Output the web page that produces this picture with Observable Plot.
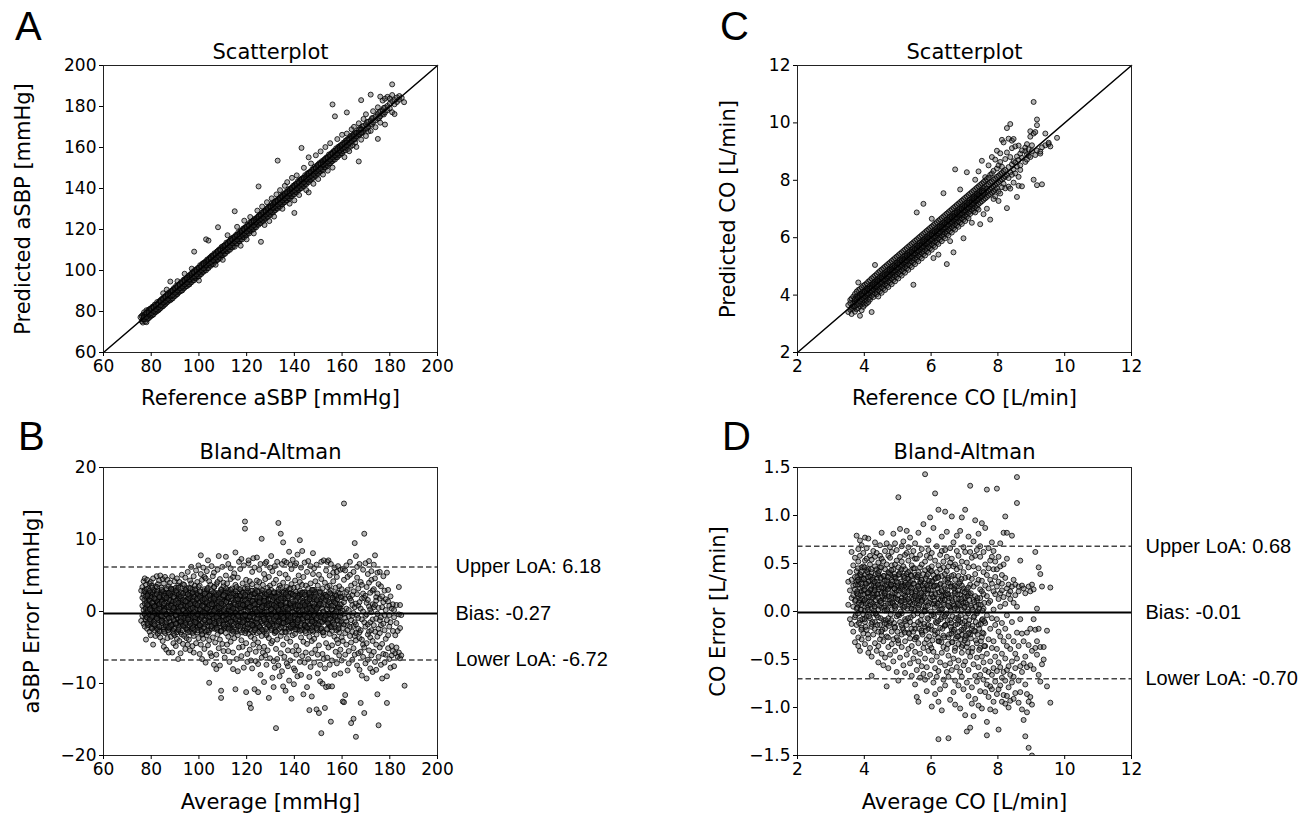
<!DOCTYPE html>
<html><head><meta charset="utf-8">
<script src="https://cdn.jsdelivr.net/npm/d3@7"></script>
<script src="https://cdn.jsdelivr.net/npm/@observablehq/plot@0.6"></script>
<style>
body{margin:0;background:#fff;}
#fig{position:relative;width:1313px;height:817px;overflow:hidden;background:#fff;}
#fig > svg{position:absolute;}
</style></head><body><div id="fig"></div>
<script>
// ---------- DATA ----------
// Panel A: rows of [reference aSBP, [predicted aSBP values]]
const aRows = [
[75.5,[77.2]],[76,[77.8,75.3]],[76.5,[76.1,78.4,74.6]],[77,[78.3,76.2,79.6]],[77.5,[76.4,78.9,75.1]],
[78,[79.3,77.2,80.6,74.8]],[78.5,[77.4,80.1,76.3]],[79,[80.9,78.2,76.8,79.4]],[79.5,[78.1,81.3,77.4]],
[80,[81.6,79.2,77.9,80.5]],[80.5,[79.4,82.3,78.2]],[81,[82.4,80.1,78.6,81.3]],[81.5,[80.2,83.4,79.5]],
[82,[83.1,81.2,79.8,82.6]],[82.5,[81.4,84.6,80.3]],[83,[84.2,82.1,80.6,83.5]],[83.5,[82.3,85.1,81.2]],
[84,[85.6,83.4,81.7,84.2]],[84.5,[83.1,86.2,82.4]],[85,[86.3,84.1,82.6,85.4,88.9]],[85.5,[84.6,87.2,83.3]],
[86,[87.4,85.2,83.7,86.5]],[86.5,[85.3,88.1,84.4,90.7]],[87,[88.6,86.4,84.8,87.3]],[87.5,[86.2,89.3,85.6]],
[88,[89.4,87.1,85.5,88.6,94.6]],[88.5,[87.7,90.2,86.1]],[89,[90.5,88.3,86.4,89.2]],[89.5,[88.2,91.4,87.3]],
[90,[91.3,89.4,87.6,90.7]],[90.5,[89.1,92.6,88.2]],[91,[92.4,90.2,88.5,91.6,94.8]],[91.5,[90.6,93.1,89.4]],
[92,[93.5,91.3,89.7,92.4]],[92.5,[91.2,94.3,90.1]],[93,[94.1,92.4,90.3,93.7]],[93.5,[92.6,95.4,91.2]],
[94,[95.7,93.2,91.6,94.3,98.4]],[94.5,[93.4,96.1,92.3]],[95,[96.3,94.5,92.4,95.6]],[95.5,[94.2,97.3,93.1]],
[96,[97.6,95.3,93.2,96.4]],[96.5,[95.4,98.2,94.1]],[97,[98.5,96.2,94.4,97.3,100.9]],[97.5,[96.4,99.3,95.2]],
[98,[99.6,97.4,95.3,98.2,109.2]],[98.5,[97.1,100.4,96.2]],[99,[100.3,98.2,96.4,99.5]],[99.5,[98.4,101.2,97.1]],
[100,[101.4,99.3,97.2,100.6,95.1]],[100.5,[99.2,102.6,98.1]],[101,[102.5,100.2,98.3,101.6]],[101.5,[100.6,103.4,99.2]],
[102,[103.7,101.3,99.4,102.4]],[102.5,[101.2,104.1,100.3]],[103,[104.6,102.2,100.1,103.4,115.2]],[103.5,[102.3,105.4,101.1]],
[104,[105.3,103.4,101.2,104.6,114.6]],[104.5,[103.1,106.2,102.4]],[105,[106.7,104.2,102.3,105.3]],[105.5,[104.4,107.3,103.2]],
[106,[107.4,105.3,103.1,106.6]],[106.5,[105.2,108.4,104.3]],[107,[108.3,106.1,104.4,107.5,102.8]],[107.5,[106.3,109.2,105.1]],
[108,[109.6,107.2,105.3,108.4,121.1]],[108.5,[107.4,110.3,106.2]],[109,[110.4,108.3,106.1,109.6]],[109.5,[108.2,111.5,107.3]],
[110,[111.7,109.1,107.4,110.3,105.2]],[110.5,[109.3,112.2,108.1]],[111,[112.5,110.4,108.2,111.3]],[111.5,[110.1,113.6,109.4]],
[112,[113.3,111.2,109.3,112.7,117.2]],[112.5,[111.4,114.1,110.2]],[113,[114.6,112.3,110.1,113.4]],[113.5,[112.2,115.4,111.3]],
[114,[115.8,113.1,111.2,114.5]],[114.5,[113.3,116.2,112.1]],[115,[116.4,114.2,111.6,115.3,128.9]],[115.5,[114.1,117.3,113.2]],
[116,[117.5,115.4,113.1,116.2,121.3]],[116.5,[115.3,118.6,114.4]],[117,[118.2,116.1,114.3,117.6]],[117.5,[116.4,119.3,115.2,112.1]],
[118,[119.6,117.3,115.1,118.4]],[118.5,[117.2,120.4,116.3]],[119,[120.7,118.1,116.2,119.4,124.3]],[119.5,[118.3,121.2,117.1]],
[120,[121.4,119.2,117.3,120.6,115.2]],[120.5,[119.1,122.5,118.4]],[121,[122.3,120.4,118.1,121.7]],[121.5,[120.2,123.6,119.3,126.1]],
[122,[123.5,121.1,119.4,122.3]],[122.5,[121.4,124.2,120.1]],[123,[124.6,122.3,120.2,123.4,118.1]],[123.5,[122.1,125.3,121.2]],
[124,[125.4,123.2,121.1,124.7]],[124.5,[123.3,126.1,122.4,129.2]],[125,[126.6,124.1,122.3,125.4,141.0]],[125.5,[124.2,127.3,123.1]],
[126,[127.2,125.4,123.2,126.6,114.0]],[126.5,[125.1,128.4,124.3,131.2]],[127,[128.5,126.2,124.1,127.3]],[127.5,[126.3,129.1,125.2,122.2]],
[128,[129.4,127.1,125.3,128.6]],[128.5,[127.2,130.3,126.1,133.3]],[129,[130.6,128.4,126.2,129.3]],[129.5,[128.1,131.2,127.4,124.1]],
[130,[131.3,129.2,127.1,130.5]],[130.5,[129.4,132.6,128.2,135.2]],[131,[132.2,130.1,128.3,131.4]],[131.5,[130.3,133.4,129.1,126.3]],
[132,[133.6,131.2,129.4,132.3]],[132.5,[131.1,134.2,130.3,137.1]],[133,[134.5,132.3,130.2,133.6,153.6]],[133.5,[132.4,135.1,131.2]],
[134,[135.3,133.2,131.1,134.5,139.2]],[134.5,[133.1,136.4,132.3]],[135,[136.6,134.1,132.2,135.3,130.1]],[135.5,[134.3,137.2,133.1]],
[136,[137.4,135.2,133.3,136.6,141.3]],[136.5,[135.2,138.3,134.1]],[137,[138.2,136.4,134.2,137.5,143.1]],[137.5,[136.1,139.6,135.3]],
[138,[139.5,137.2,135.1,138.3,132.6]],[138.5,[137.3,140.1,136.2]],[139,[140.4,138.1,136.3,139.6,145.2]],[139.5,[138.2,141.3,137.1]],
[140,[141.6,139.3,137.2,140.4,128.1,134.2]],[140.5,[139.1,142.2,138.3]],[141,[142.3,140.2,138.1,141.5,146.4]],[141.5,[140.4,143.6,139.2]],
[142,[143.5,141.1,139.4,142.2,136.8]],[142.5,[141.3,144.2,140.1]],[143,[144.7,142.4,140.2,143.3,159.8]],[143.5,[142.2,145.1,141.3]],
[144,[145.3,143.1,141.2,144.6,150.1]],[144.5,[143.4,146.5,142.2]],[145,[146.2,144.3,142.1,145.4,139.2]],[145.5,[144.1,147.4,143.3]],
[146,[147.6,145.2,143.1,146.3,155.2,138.1]],[146.5,[145.3,148.1,144.2]],[147,[148.4,146.1,144.3,147.5,152.2]],[147.5,[146.2,149.3,145.1]],
[148,[149.5,147.3,145.2,148.1,142.3]],[148.5,[147.1,150.6,146.4]],[149,[150.3,148.2,146.1,149.4,156.2]],[149.5,[148.4,151.2,147.3]],
[150,[151.7,149.1,147.2,150.3,144.6]],[150.5,[149.3,152.4,148.1]],[151,[152.2,150.4,148.3,151.6,158.1]],[151.5,[150.1,153.3,149.2]],
[152,[153.4,151.2,149.1,152.5,146.8]],[152.5,[151.4,154.1,150.3]],[153,[154.6,152.1,150.2,153.3,160.2]],[153.5,[152.3,155.2,151.4]],
[154,[155.3,153.4,151.1,154.2,148.7]],[154.5,[153.2,156.6,152.1]],[155,[156.4,154.1,152.3,155.5,162.1]],[155.5,[154.3,157.2,153.1]],
[156,[157.5,155.2,153.4,181.0,150.2]],[156.5,[155.1,158.3,154.2]],[157,[158.2,156.3,154.1,175.2]],[157.5,[156.4,159.6,155.3]],
[158,[159.3,157.1,155.2,164.1]],[158.5,[157.2,160.4,156.1]],[159,[160.6,158.3,156.4]],[159.5,[158.1,161.2,157.3]],
[160,[161.4,159.2,157.1,166.2]],[160.5,[159.4,162.3,158.2]],[161,[162.2,160.1,155.3]],[161.5,[160.3,163.4,158.6]],
[162,[163.6,161.2,177.1,166.8]],[162.5,[161.1,164.2,159.3]],[163,[164.3,162.4,158.2]],[163.5,[162.2,165.6,160.4]],
[164,[165.4,163.1,168.9]],[164.5,[163.3,166.2,161.1]],[165,[166.5,164.2,170.1]],[165.5,[164.1,167.3,162.4]],
[166,[167.2,165.4,160.3]],[167,[168.6,166.1,153.2,171.8]],[167.5,[166.3,169.4]],[168,[169.1,167.2,183.1,163.8]],
[168.5,[167.4,170.3]],[169,[170.5,168.2,173.9]],[170,[171.3,169.1,176.2,165.6]],[170.5,[169.3,172.4]],
[171,[172.6,170.2,167.8]],[172,[173.2,171.4,185.8,168.1]],[172.5,[171.1,174.3]],[173,[174.4,172.3,177.7]],
[174,[175.1,173.2,169.9]],[175,[176.3,174.1,164.2,179.6]],[175.5,[174.4,177.2]],[176,[177.6,175.2,184.8,172.1]],
[177,[178.2,176.4,182.9]],[177.5,[176.1,179.3]],[178,[179.5,177.1,171.2,183.8]],[179,[180.3,178.2,184.7]],
[180,[181.4,179.1,183.9]],[181,[182.6,190.8,177.2,185.6]],[182,[183.2,181.1,176.3]],[183,[184.4,182.2]],
[184,[185.1,183.3]],[185,[184.2]],[186,[182.1]]
];
// Panel A, dense centre of the band
const aCoreRows = [
[77,[77.7,76.2,77.1]],[78,[78.3,79.2,77.4]],[79,[80.1,78.6,79.4]],[80,[79.2,80.6,81.3]],[81,[81.8,80.3,82.0]],
[82,[82.4,81.1,83.2]],[83,[82.2,83.9,83.3]],[84,[84.6,83.1,85.0]],[85,[85.9,84.4,86.1]],[86,[85.3,86.8,87.2]],
[87,[87.5,86.2,88.1]],[88,[88.9,87.4,87.9]],[89,[89.6,88.1,90.2]],[90,[90.4,89.2,91.3]],[91,[91.8,90.3,92.0]],
[92,[91.4,92.9,93.1]],[93,[93.6,92.2,94.2]],[94,[94.8,93.3,95.1]],[95,[95.5,94.1,96.3]],[96,[96.9,95.4,95.8]],
[97,[97.3,96.6,98.4]],[98,[98.7,97.2,99.1]],[99,[99.4,98.1,100.2]],[100,[100.8,99.3,101.4]],[101,[101.5,100.2,102.1]],
[102,[102.6,101.1,103.3]],[103,[103.9,102.4,102.8]],[104,[104.3,103.5,105.2]],[105,[105.7,104.2,106.1]],[106,[106.4,105.1,107.3]],
[107,[107.8,106.3,108.0]],[108,[108.5,107.2,109.4]],[109,[109.6,108.1,110.2]],[110,[110.9,109.4,109.8]],[111,[111.3,110.5,112.2]],
[112,[112.7,111.2,113.1]],[113,[113.4,112.1,114.3]],[114,[114.8,113.3,115.0]],[115,[115.5,114.2,116.4]],[116,[116.6,115.1,117.2]],
[117,[117.9,116.4,116.8]],[118,[118.3,117.5,119.2]],[119,[119.7,118.2,120.1]],[120,[120.4,119.1,121.3]],[121,[121.8,120.3,122.0]],
[122,[122.5,121.2,123.4]],[123,[123.6,122.1,124.2]],[124,[124.9,123.4,123.8]],[125,[125.3,124.5,126.2]],[126,[126.7,125.2,127.1]],
[127,[127.4,126.1,128.3]],[128,[128.8,127.3,129.0]],[129,[129.5,128.2,130.4]],[130,[130.6,129.1,131.2]],[131,[131.9,130.4,130.8]],
[132,[132.3,131.5,133.2]],[133,[133.7,132.2,134.1]],[134,[134.4,133.1,135.3]],[135,[135.8,134.3,136.0]],[136,[136.5,135.2,137.4]],
[137,[137.6,136.1,138.2]],[138,[138.9,137.4,137.8]],[139,[139.3,138.5,140.2]],[140,[140.7,139.2,141.1]],[141,[141.4,140.1,142.3]],
[142,[142.8,141.3,143.0]],[143,[143.5,142.2,144.4]],[144,[144.6,143.1,145.2]],[145,[145.9,144.4,144.8]],[146,[146.3,145.5,147.2]],
[147,[147.7,146.2,148.1]],[148,[148.4,147.1,149.3]],[149,[149.8,148.3,150.0]],[150,[150.5,149.2,151.4]],[151,[151.6,150.1,152.2]],
[152,[152.9,151.4,151.8]],[153,[153.3,152.5,154.2]],[154,[154.7,153.2,155.1]],[155,[155.4,154.1,156.3]],[156,[156.8,155.3,157.0]],
[157,[157.5,156.2,158.4]],[158,[158.6,157.1,159.2]],[159,[159.9,158.4,158.8]],[160,[160.3,159.5,161.2]],[161,[161.7,160.2]],
[162,[162.4,161.1]],[163,[163.8,162.3]],[164,[164.5,163.2]],[165,[165.6,164.1]],[166,[166.9,165.4]],[167,[167.3,166.5]],[168,[168.7,167.2]]
];
// Panel B: rows of [average aSBP, [error values]]
const bRows = [
[75.8,[2.9,-1.3]],[76.3,[3.4,0.8,-0.6,1.9]],[76.8,[-1.7,2.3,4.2,0.2]],[77.3,[1.1,-0.4,3.0,-2.1,4.6]],
[77.8,[2.6,-1.2,0.5,3.7,-3.9]],[78.3,[-0.8,1.8,4.4,-2.4,0.3]],[78.8,[3.2,-0.2,1.4,-1.6,2.5]],[79.3,[0.7,-2.8,3.9,-0.5,1.6]],
[79.8,[-1.4,2.1,-3.3,4.1,0.1]],[80.3,[2.4,-0.9,0.8,-2.2,3.6]],[80.8,[1.3,-1.7,4.6,-4.6,-0.3]],[81.3,[-0.6,2.9,0.4,-2.6,1.9]],
[81.8,[3.5,-1.1,1.6,-3.4,0.2]],[82.3,[0.9,-2.3,2.7,-0.7,4.9]],[82.8,[-1.9,1.2,3.8,-0.1,-3.1]],[83.3,[2.2,-0.5,-2.7,1.5,4.3]],
[83.8,[0.3,-3.6,2.6,-1.3,5.0]],[84.3,[-1.2,1.7,3.3,-2.0,0.6]],[84.8,[2.8,-0.8,-4.1,1.0,4.5]],[85.3,[0.5,-2.5,2.0,-0.2,3.9,-4.9]],
[85.8,[-1.6,1.4,4.8,-3.0,0.0]],[86.3,[3.0,-0.3,1.9,-2.2,-5.3]],[86.8,[0.8,-1.9,2.5,-3.7,4.4]],[87.3,[-0.7,2.3,-2.9,1.1,3.5,-5.7]],
[87.8,[1.9,-1.4,4.0,-0.4,-2.4]],[88.3,[-2.1,0.6,3.2,-3.5,1.6]],[88.8,[2.7,-0.9,-1.8,0.9,4.9,-5.7]],[89.3,[0.2,-2.7,1.8,-4.4,3.1]],
[89.8,[-1.3,2.5,-0.2,4.2,-3.3]],[90.3,[3.3,-0.6,1.2,-2.3,0.5,-4.8]],[90.8,[0.4,-1.6,2.8,-3.8,4.6]],[91.3,[-0.9,1.9,-2.6,3.6,0.7,-6.6]],
[91.8,[2.1,-0.2,-1.5,4.1,-4.1]],[92.3,[-1.8,0.9,3.4,-2.9,1.5,-5.8]],[92.8,[1.4,-3.2,2.2,-0.6,5.1]],[93.3,[-0.4,2.6,-1.9,0.3,-4.5,3.8]],
[93.8,[3.7,-1.2,1.0,-3.4,0.1]],[94.3,[0.6,-2.3,2.9,-0.8,4.7,-5.2]],[94.8,[-1.5,1.6,-3.7,3.2,0.4]],[95.3,[2.4,-0.5,0.8,-2.6,5.5,-4.6]],
[95.8,[-0.3,3.3,-1.4,1.7,-3.9]],[96.3,[1.8,-2.1,4.3,-0.1,-5.4,2.6]],[96.8,[-2.4,0.7,2.0,-1.0,3.9,6.2]],[97.3,[3.1,-0.7,-3.0,1.3,-4.8]],
[97.8,[0.2,-1.8,2.4,-3.4,4.9,-5.7]],[98.3,[-1.1,1.5,3.6,-2.5,0.6]],[98.8,[2.6,-0.4,-1.6,0.9,-4.4,5.7]],[99.3,[0.9,-2.9,1.9,-0.9,4.1]],
[99.8,[-1.7,2.2,-0.3,3.4,-3.7,6.4]],[100.3,[3.6,-1.0,1.1,-2.2,0.3,-5.9]],[100.8,[0.5,-2.4,2.7,-4.6,5.2,7.8]],[101.3,[-0.8,1.8,-1.7,4.4,-3.1,-6.6]],
[101.8,[2.0,-0.1,-3.8,1.4,6.1]],[102.3,[-2.2,0.8,3.1,-0.6,-5.2,4.8]],[102.8,[1.5,-1.5,4.6,-2.8,0.2,-7.1]],[103.3,[-0.2,2.9,-3.3,1.1,5.6]],
[103.8,[3.3,-0.9,0.6,-2.0,-4.7,7.1]],[104.3,[0.1,-2.6,2.3,-4.0,4.2,-9.9]],[104.8,[-1.4,1.3,-0.4,3.7,-5.8]],[105.3,[2.5,-0.3,-2.4,0.7,6.3,-6.2]],
[105.8,[-0.6,2.0,-3.6,4.9,1.6]],[106.3,[1.7,-1.2,3.4,-1.9,-7.4,5.4]],[106.8,[-2.0,0.4,2.6,-4.3,0.9]],[107.3,[3.8,-0.7,-1.3,1.8,-6.0,-8.0]],
[107.8,[0.7,-2.2,4.1,-3.2,5.8]],[108.3,[-1.0,2.4,-0.5,0.3,-5.1,7.7]],[108.8,[2.2,-1.6,1.0,-3.9,4.5,-7.5]],[109.3,[-0.3,3.1,-2.7,0.5,-12.0,-11.0]],
[109.8,[1.4,-0.8,-4.5,2.7,6.2]],[110.3,[-1.6,0.9,3.5,-2.1,-5.5,4.0]],[110.8,[2.8,-0.2,-1.2,1.6,-6.4]],[111.3,[0.4,-3.0,2.1,-0.7,5.0,7.6]],
[111.8,[-0.9,1.6,-2.3,3.9,-4.6]],[112.3,[3.0,-1.3,0.2,-3.5,6.6,-5.5]],[112.8,[0.8,-0.4,2.5,-1.9,-7.0]],[113.3,[-2.3,1.1,4.5,-0.2,-4.2,6.0]],
[113.8,[1.9,-1.8,-3.1,0.6,3.2]],[114.3,[-0.5,2.7,-0.9,4.8,-5.7,-8.0]],[114.8,[2.4,-2.5,1.3,-3.7,0.0,5.3]],[115.3,[-1.1,0.5,3.7,-1.5,-10.8,8.2]],
[115.8,[3.4,-0.6,-2.8,1.9,-6.6]],[116.3,[0.3,-3.3,2.2,-0.4,4.7,-8.3]],[116.8,[-1.7,1.4,-1.0,3.1,-5.0,6.9]],[117.3,[2.1,-0.8,0.7,-2.6,5.9]],
[117.8,[-0.2,2.8,-4.0,1.2,-6.2,7.3]],[118.3,[1.6,-1.9,3.9,-0.9,-4.9]],[118.8,[-2.6,0.6,2.0,-1.3,6.4,-7.8]],[119.3,[3.2,-0.4,-2.1,0.9,12.5,11.5]],
[119.8,[0.6,-2.7,1.7,-4.4,4.4,-11.2]],[120.3,[-1.2,2.3,-0.6,3.5,-5.9,-7.0]],[120.8,[2.7,-1.1,0.4,-3.1,6.7,7.1]],[121.3,[-0.7,1.0,-2.5,4.2,-5.3,-12.8]],
[121.8,[1.3,-3.5,2.9,-0.3,-6.8,-13.4]],[122.3,[-1.9,0.2,3.8,-1.7,5.5,-7.9]],[122.8,[2.5,-0.9,-2.9,1.5,-4.6,7.4]],[123.3,[0.0,-1.6,2.4,-3.8,6.1,-10.8]],
[123.8,[-1.4,3.0,-0.2,1.1,-5.6,-6.9]],[124.3,[3.5,-2.3,0.8,-3.0,4.3,7.5]],[124.8,[0.9,-0.5,-4.3,2.0,-7.3,-11.2]],[125.3,[-2.8,1.7,4.1,-1.1,-5.0,5.8]],
[125.8,[1.8,-1.4,0.1,-2.3,6.6,-8.8]],[126.3,[-0.4,2.6,-3.4,0.6,10.1,-6.4]],[126.8,[2.9,-0.7,-1.6,3.7,-5.7]],[127.3,[0.4,-2.8,1.4,-4.9,5.2,-9.8]],
[127.8,[-1.5,1.9,-0.4,4.5,-6.1,6.7]],[128.3,[2.3,-1.2,0.5,-3.3,6.9,-7.4]],[128.8,[-0.8,3.3,-2.2,1.3,-5.4]],[129.3,[1.0,-3.7,2.8,-0.6,4.8,-12.0]],
[129.8,[-2.1,0.7,3.6,-1.8,-6.5,6.1]],[130.3,[3.0,-0.3,-2.6,0.9,-4.4,7.7]],[130.8,[0.5,-1.7,2.1,-4.1,5.6,-9.2]],[131.3,[-1.3,2.5,-0.8,3.9,-6.9,-10.5]],
[131.8,[1.9,-2.6,0.3,-3.0,6.3,-7.8]],[132.3,[-0.6,1.2,4.4,-1.4,-5.2,-16.2]],[132.8,[2.6,-0.9,-3.9,1.7,6.9,-6.6]],[133.3,[0.2,-2.0,2.7,-0.2,-7.5,12.3]],
[133.8,[-1.8,3.6,-1.1,1.0,5.3,-9.0]],[134.3,[3.3,-0.5,0.6,-3.4,-5.8,10.8]],[134.8,[0.7,-2.9,2.3,-1.6,6.6,-8.3]],[135.3,[-1.0,1.5,-4.6,4.0,9.6,-10.4]],
[135.8,[2.0,-0.2,-2.3,0.8,-6.3,7.0]],[136.3,[-2.4,2.9,0.0,-1.2,5.1,-11.0]],[136.8,[1.2,-1.4,3.4,-3.7,-7.2,6.8]],[137.3,[-0.3,2.2,-0.7,4.6,-5.4,-7.6]],
[137.8,[3.1,-1.9,1.0,-2.8,8.3,-9.6]],[138.3,[0.6,-0.6,-4.2,2.5,-6.8,6.5]],[138.8,[-1.6,3.8,-1.3,0.4,5.9,-12.1]],[139.3,[2.4,-2.2,0.9,-3.3,-5.5,7.2]],
[139.8,[-0.9,1.1,3.3,-0.8,-7.9,-10.1]],[140.3,[1.6,-3.1,-1.5,4.3,6.4,-8.2]],[140.8,[-2.2,0.3,2.4,-4.8,-6.0,6.7]],[141.3,[3.4,-1.0,0.7,-2.0,7.9,-9.0]],
[141.8,[0.1,-2.5,2.0,-5.4,5.0]],[142.3,[-1.2,4.1,-0.5,1.4,-7.0,9.9]],[142.8,[2.6,-1.6,-3.6,0.8,6.1,-8.8]],[143.3,[-0.5,1.8,-2.4,3.7,-6.2,8.4]],
[143.8,[1.5,-0.4,4.8,-4.2,-11.5]],[144.3,[-2.0,2.7,0.2,-1.9,6.8,-7.1]],[144.8,[3.6,-0.8,-3.0,1.1,-5.7]],[145.3,[0.8,-2.3,2.2,-4.5,5.5,-10.5]],
[145.8,[-1.4,1.0,-0.2,3.2,-6.6,7.0]],[146.3,[2.3,-3.5,1.6,-1.1,-13.7,-9.1]],[146.8,[-0.1,3.9,-2.7,0.5,6.3,-7.7]],[147.3,[1.9,-0.9,-4.1,2.6,-11.8,-5.8]],
[147.8,[-1.7,0.6,3.0,-2.8,5.2,8.1]],[148.3,[3.0,-1.3,0.0,-3.8,-7.1,6.0]],[148.8,[0.4,-2.1,4.2,-0.6,-5.3]],[149.3,[-1.0,2.0,-3.2,1.2,6.5,-13.6]],
[149.8,[2.7,-0.5,-1.7,3.6,-6.0,-8.6]],[150.3,[-0.7,1.4,-4.7,0.7,5.1,-14.1]],[150.8,[1.4,-2.6,2.8,-1.4,-7.4,-9.7]],[151.3,[-2.3,0.9,4.5,-0.4,6.9,-16.9]],
[151.8,[3.2,-1.5,-2.9,1.9,-5.9,-10.0]],[152.3,[0.0,-3.3,2.4,-0.9,7.1,-6.6]],[152.8,[-1.1,2.3,-1.2,4.0,-7.9,-13.4]],[153.3,[2.0,-0.3,0.8,-4.4,5.7,-10.5]],
[153.8,[-0.6,3.4,-2.5,1.5,-6.4,6.9]],[154.3,[1.7,-1.8,-0.3,-5.0,7.1,-10.4]],[154.8,[-1.9,0.5,3.6,-3.1,-7.4,5.0]],[155.3,[2.9,-0.6,1.1,-2.0,-15.3,6.6]],
[155.8,[0.3,-2.7,2.3,-4.7,-6.8,-10.4]],[156.3,[-1.3,4.2,-1.0,0.8,5.4]],[156.8,[2.2,-0.2,-3.5,1.7,-8.8,6.1]],[157.3,[-0.8,1.5,-2.2,3.3,-5.6]],
[157.8,[1.1,-3.9,0.3,4.8,-7.2,5.5]],[158.3,[-2.5,2.6,-0.7,-4.4,6.3]],[158.8,[3.5,-1.4,0.6,-2.9,-6.1]],[159.3,[0.5,-0.5,2.0,-5.3,5.8,-8.6]],
[159.8,[-1.6,3.1,-3.6,1.0,-6.8]],[160.3,[2.1,-2.3,0.1,-4.1,5.9,-12.5]],[160.8,[-0.3,1.3,4.4,-1.8,15.0,-12.6]],[161.3,[1.8,-3.0,-0.9,-6.0,-11.6,5.7]],
[161.8,[-1.4,2.7,0.4,-4.6,6.4]],[162.3,[3.0,-1.9,-2.6,-8.2,4.8]],[162.8,[0.2,-0.7,2.1,-5.5,-7.2]],[163.3,[-2.1,1.8,5.1,-3.4,6.9]],
[163.8,[1.5,-1.2,-4.3,3.6,-15.5]],[164.3,[-0.6,2.3,-6.7,0.9,-2.8]],[164.8,[2.8,-2.0,-0.2,-5.1,5.5,-14.9]],[165.3,[0.6,-3.4,3.9,-1.5,9.5,-6.0]],
[165.8,[-1.8,1.1,7.7,-4.0,-17.4,-3.0]],[166.3,[2.4,-0.5,-7.5,4.7,6.2]],[166.8,[-0.9,3.2,-2.4,-5.8,0.8]],[167.3,[1.3,-2.9,6.6,-8.1,-3.7]],
[167.8,[-2.6,0.4,4.1,-5.6,-12.7]],[168.3,[3.7,-1.1,-3.9,1.8,-8.9]],[168.8,[0.0,-4.6,2.5,-6.3,5.8]],[169.3,[-1.5,1.9,10.8,-14.1,-5.0]],
[169.8,[2.2,-2.1,-0.6,6.7,-7.2]],[170.3,[-0.4,3.4,-4.4,-9.3,1.2]],[170.8,[1.6,-3.2,5.2,-6.7,-1.8]],[171.3,[-2.8,0.7,-5.4,4.0,7.0]],
[171.8,[2.6,-1.5,-7.9,0.3,-3.6]],[172.3,[-0.1,4.4,-2.6,-6.1,5.6]],[172.8,[1.0,-4.1,2.9,-8.4,-1.1]],[173.3,[-1.9,3.1,-5.6,0.6,6.5]],
[173.8,[0.9,-2.8,7.8,-7.0,4.6]],[174.3,[-1.0,2.0,-4.6,-8.1,1.5]],[174.8,[2.5,-3.5,5.4,-11.5,-0.3]],[175.3,[-2.4,0.5,-15.8,-6.3,3.8]],
[175.8,[1.8,-1.2,-5.0,5.5,-3.0]],[176.3,[-0.8,3.5,-7.4,-1.9]],[176.8,[0.6,-4.5,2.1,-9.3]],[177.3,[-1.7,1.3,-5.9,4.9]],
[177.8,[2.9,-2.6,-0.5,-7.1]],[178.3,[0.2,-3.8,1.7,-6.0]],[178.8,[-1.2,-12.7,-9.0,5.4]],[179.3,[1.4,-5.1,3.0,-3.3]],
[179.8,[-0.5,-6.6,0.8,-2.1]],[180.3,[-1.5,-7.8,2.1]],[180.8,[0.4,-4.8,-6.1]],[181.3,[-2.7,1.0,-5.5]],
[181.8,[-0.8,-7.6,0.2]],[182.3,[-3.3,-5.8]],[182.8,[0.9,-1.6,-5.0]],[183.3,[-6.3,-2.7]],
[183.8,[3.4,-0.4,-5.7]],[184.3,[-2.3,-6.5,0.9]],[184.8,[-0.5,-6.1]],[186.2,[-10.3]]
];
// Panel B, dense centre of the cloud
const bCoreRows = [
[77.1,[1.6,-0.3,2.8]],[77.6,[0.4,2.1,-1.1]],[78.1,[1.3,-0.8,3.1]],[78.6,[2.4,0.2,-1.9]],[79.1,[-0.4,1.7,0.9]],
[79.6,[2.6,-1.5,0.5]],[80.1,[0.1,1.9,-2.3]],[80.6,[1.1,-0.6,2.7]],[81.1,[-1.4,0.8,3.0]],[81.6,[2.2,-2.0,0.3]],
[82.1,[0.6,-0.9,1.8]],[82.6,[-2.5,1.4,2.9]],[83.1,[0.9,-1.2,-0.2]],[83.6,[2.0,-2.8,1.1]],[84.1,[-0.5,0.7,2.4]],
[84.6,[1.6,-1.6,0.0]],[85.1,[-2.2,2.7,0.9]],[85.6,[0.3,-0.7,1.9]],[86.1,[2.5,-1.9,-0.4]],[86.6,[-1.1,1.2,0.6]],
[87.1,[0.8,-2.6,2.2]],[87.6,[-0.2,1.6,-1.4]],[88.1,[2.3,0.5,-2.1]],[88.6,[-0.8,1.0,2.8]],[89.1,[1.4,-1.8,0.2]],
[89.6,[-2.4,0.6,2.0]],[90.1,[1.1,-0.4,-1.6]],[90.6,[2.6,0.0,-2.9]],[91.1,[-1.0,1.7,0.7]],[91.6,[0.4,-2.2,2.4]],
[92.1,[1.8,-0.6,-1.3]],[92.6,[-0.3,2.6,0.9]],[93.1,[1.2,-1.7,-2.6]],[93.6,[0.2,2.1,-0.9]],[94.1,[-1.9,0.8,1.5]],
[94.6,[2.7,-0.2,-1.2]],[95.1,[0.6,-2.5,1.3]],[95.6,[-0.9,1.9,0.1]],[96.1,[2.2,-1.4,-2.8]],[96.6,[0.3,1.1,-0.5]],
[97.1,[-2.0,2.5,0.8]],[97.6,[1.5,-0.8,-1.9]],[98.1,[-0.1,2.0,-2.6]],[98.6,[1.0,-1.2,2.9]],[99.1,[-1.6,0.4,1.7]],
[99.6,[2.4,-0.5,-2.2]],[100.1,[0.7,-1.9,1.2]],[100.6,[-0.7,2.2,0.2]],[101.1,[1.9,-2.7,-0.9]],[101.6,[0.0,1.3,-1.5]],
[102.1,[-2.3,2.8,0.6]],[102.6,[1.3,-0.3,-1.8]],[103.1,[-0.6,1.8,2.6]],[103.6,[2.1,-1.5,0.4]],[104.1,[-1.2,0.9,-2.9]],
[104.6,[0.5,2.4,-0.7]],[105.1,[1.7,-2.1,0.0]],[105.6,[-0.4,1.0,-1.3]],[106.1,[2.6,-0.9,1.4]],[106.6,[0.2,-2.4,2.0]],
[107.1,[-1.7,1.5,0.3]],[107.6,[1.1,-0.2,-2.5]],[108.1,[-0.9,2.3,0.8]],[108.6,[1.8,-1.6,-0.3]],[109.1,[0.4,-2.8,2.7]],
[109.6,[-1.3,0.7,1.6]],[110.1,[2.2,-0.6,-1.9]],[110.6,[0.0,1.4,-2.3]],[111.1,[-2.1,2.6,0.5]],[111.6,[1.4,-1.1,-0.5]],
[112.1,[-0.5,1.9,2.8]],[112.6,[2.0,-2.2,0.3]],[113.1,[-1.5,0.6,-0.8]],[113.6,[0.8,2.5,-2.6]],[114.1,[1.6,-1.3,0.1]],
[114.6,[-0.8,1.2,-1.7]],[115.1,[2.5,-0.1,1.0]],[115.6,[0.3,-2.5,2.2]],[116.1,[-1.8,1.7,-0.6]],[116.6,[1.2,-0.7,-2.0]],
[117.1,[-0.2,2.2,0.7]],[117.6,[2.3,-1.8,-0.2]],[118.1,[0.6,-2.9,1.5]],[118.6,[-1.1,0.9,2.6]],[119.1,[1.7,-0.4,-1.4]],
[119.6,[-0.6,2.7,0.2]],[120.1,[1.0,-1.7,-2.4]],[120.6,[-2.2,0.4,1.8]],[121.1,[2.1,-0.8,0.6]],[121.6,[0.1,1.6,-1.2]],
[122.1,[-1.4,2.4,-2.7]],[122.6,[1.5,-0.3,0.9]],[123.1,[-0.7,1.1,-1.9]],[123.6,[2.6,-2.3,0.4]],[124.1,[0.4,-1.0,1.9]],
[124.6,[-1.9,2.0,-0.5]],[125.1,[1.3,-0.6,2.8]],[125.6,[-0.3,1.5,-2.2]],[126.1,[2.2,-1.4,0.0]],[126.6,[0.7,-2.6,1.2]],
[127.1,[-1.0,0.8,-0.9]],[127.6,[1.9,-0.1,2.5]],[128.1,[-2.4,1.3,0.5]],[128.6,[0.9,-1.5,-0.4]],[129.1,[-0.4,2.3,1.6]],
[129.6,[2.4,-0.9,-2.1]],[130.1,[0.2,1.7,-1.3]],[130.6,[-1.6,0.5,2.1]],[131.1,[1.6,-2.0,-0.2]],[131.6,[-0.1,2.6,0.8]],
[132.1,[1.1,-1.2,-2.8]],[132.6,[-2.0,0.9,1.4]],[133.1,[2.0,-0.4,0.3]],[133.6,[0.5,-2.4,2.3]],[134.1,[-1.3,1.4,-0.7]],
[134.6,[1.4,-0.7,-1.6]],[135.1,[-0.6,2.1,0.6]],[135.6,[2.7,-1.6,-0.1]],[136.1,[0.3,-2.8,1.8]],[136.6,[-1.5,0.6,2.6]],
[137.1,[1.8,-0.2,-1.1]],[137.6,[-0.9,1.9,-2.4]],[138.1,[1.2,-1.3,0.4]],[138.6,[-2.3,2.5,0.9]],[139.1,[0.6,-0.6,-1.8]],
[139.6,[2.2,-2.1,1.1]],[140.1,[-0.2,1.0,-0.8]],[140.6,[1.5,-1.7,2.7]],[141.1,[-1.7,0.3,-2.5]],[141.6,[0.8,2.2,-0.4]],
[142.1,[2.3,-1.0,0.2]],[142.6,[-0.5,1.6,-2.0]],[143.1,[1.0,-2.6,2.4]],[143.6,[-1.2,0.7,-0.9]],[144.1,[2.6,-0.4,1.3]],
[144.6,[0.1,-1.9,-2.7]],[145.1,[-2.1,1.8,0.5]],[145.6,[1.3,-0.8,-1.4]],[146.1,[-0.7,2.4,1.0]],[146.6,[2.0,-2.3,-0.3]],
[147.1,[0.4,-1.1,2.1]],[147.6,[-1.4,1.2,-2.2]],[148.1,[1.7,-0.5,0.7]],[148.6,[-0.3,2.7,-1.6]],[149.1,[2.4,-1.8,0.2]],
[149.6,[0.6,-2.5,1.5]],[150.1,[-1.9,0.9,-0.6]],[150.6,[1.1,-0.2,2.6]],[151.1,[-0.8,1.7,-2.4]],[151.6,[2.1,-1.4,0.4]],
[152.1,[0.0,-2.9,1.9]],[152.6,[-1.1,1.0,-0.9]],[153.1,[1.6,-0.6,2.3]],[153.6,[-2.4,2.1,0.3]],[154.1,[0.9,-1.6,-1.1]],
[154.6,[-0.4,1.3,2.7]],[155.1,[2.5,-1.0,-2.1]],[155.6,[0.3,-2.2,0.8]],[156.1,[-1.5,1.9,-0.5]],[156.6,[1.4,-0.3,-1.8]],
[157.1,[-0.6,2.4,1.2]],[157.6,[2.2,-2.6,0.0]],[158.1,[0.5,-1.2,1.7]],[158.6,[-1.8,0.6,-2.3]],[159.1,[1.0,-0.7,2.5]],
[159.6,[-0.2,2.0,-1.4]]
];
// Panel B, second layer of the dense centre
const bCore2Rows = [
[78.4,[0.9,-1.6,2.2,-0.1]],[79.4,[2.9,0.3,-1.1,1.5]],[80.4,[-0.7,1.2,3.3,-2.4]],[81.4,[1.8,-0.2,-1.8,0.7]],[82.4,[0.2,2.4,-1.0,3.4]],
[83.4,[-2.1,1.0,0.4,2.0]],[84.4,[1.3,-1.3,3.0,-0.6]],[85.4,[2.2,0.1,-2.8,1.1]],[86.4,[-0.4,1.9,-1.5,3.2]],[87.4,[0.6,-2.2,2.6,-0.9]],
[88.4,[3.1,0.8,-0.3,-1.9]],[89.4,[-1.2,2.0,0.5,-3.1]],[90.4,[1.5,-0.5,2.9,-1.7]],[91.4,[0.0,3.3,-2.5,1.2]],[92.4,[-0.9,0.7,2.1,-1.4]],
[93.4,[2.5,-2.0,0.2,1.6]],[94.4,[-1.6,1.4,-0.2,3.0]],[95.4,[0.8,-1.1,2.4,-2.9]],[96.4,[3.2,0.4,-1.7,1.0]],[97.4,[-0.3,2.7,-2.3,0.5]],
[98.4,[1.1,-0.8,3.1,-1.5]],[99.4,[-2.6,0.9,1.8,-0.4]],[100.4,[2.0,-1.9,0.3,2.8]],[101.4,[-0.6,1.6,-3.2,0.8]],[102.4,[1.7,-0.2,2.5,-1.2]],
[103.4,[0.4,-2.6,1.3,3.1]],[104.4,[-1.4,2.2,-0.7,0.9]],[105.4,[2.8,-0.4,1.0,-2.0]],[106.4,[0.1,1.8,-1.6,3.4]],[107.4,[-2.3,0.5,2.3,-0.8]],
[108.4,[1.4,-1.3,0.6,2.6]],[109.4,[-0.2,3.0,-2.7,1.1]],[110.4,[2.3,-0.7,0.2,-1.8]],[111.4,[-1.1,1.3,3.2,-0.3]],[112.4,[0.7,-2.4,1.9,-1.0]],
[113.4,[3.0,0.0,-1.4,2.1]],[114.4,[-0.8,2.5,0.4,-2.8]],[115.4,[1.6,-1.0,2.8,-0.2]],[116.4,[-2.0,0.8,-0.6,1.7]],[117.4,[0.5,3.1,-2.1,1.0]],
[118.4,[2.6,-0.6,0.9,-1.5]],[119.4,[-0.5,1.5,-3.0,2.3]],[120.4,[1.2,-1.8,0.1,3.2]],[121.4,[-1.7,2.1,0.6,-0.7]],[122.4,[2.9,-0.3,-1.9,1.4]],
[123.4,[0.3,1.0,-2.6,2.5]],[124.4,[-1.0,2.8,0.0,-1.6]],[125.4,[1.9,-2.1,1.3,0.4]],[126.4,[-0.4,0.6,3.0,-2.5]],[127.4,[2.1,-1.2,-0.2,1.5]],
[128.4,[0.0,2.4,-1.7,-3.1]],[129.4,[-1.9,1.1,0.8,2.7]],[130.4,[1.0,-0.4,-2.4,0.3]],[131.4,[2.7,0.9,-1.1,1.9]],[132.4,[-0.7,-2.8,2.0,0.6]],
[133.4,[1.6,0.2,-1.4,3.1]],[134.4,[-2.2,1.8,-0.3,0.9]],[135.4,[0.4,-1.6,2.6,-0.9]],[136.4,[2.4,0.6,-2.9,1.2]],[137.4,[-1.3,2.1,0.3,-0.5]],
[138.4,[1.1,-0.9,3.2,-2.1]],[139.4,[-0.1,1.4,-1.8,2.4]],[140.4,[2.2,-2.5,0.7,-0.4]],[141.4,[-1.5,0.9,1.9,-1.2]],[142.4,[0.8,-0.1,-2.7,2.9]],
[143.4,[2.6,1.2,-1.0,0.2]],[144.4,[-0.6,-1.9,2.3,0.9]],[145.4,[1.4,0.3,-2.2,-0.8]],[146.4,[-1.8,2.6,0.5,1.7]],[147.4,[0.2,-1.4,3.0,-2.6]],
[148.4,[2.0,0.7,-0.6,1.1]],[149.4,[-0.9,-2.3,1.6,0.4]]
];
const bLoaNames = ["Upper LoA", "Bias", "Lower LoA"];
const bLoaValues = [6.18, -0.27, -6.72];
// Panel C: rows of [reference CO, [predicted CO values]]
const cRows = [
[3.52,[3.65,3.41]],[3.58,[3.72,3.49,3.83]],[3.62,[3.56,3.88,3.34]],[3.67,[3.74,3.52,3.95,3.61]],
[3.72,[3.86,3.63,3.42,4.04,3.77]],[3.77,[3.69,3.95,3.51,3.82,4.12]],[3.82,[3.97,3.74,3.55,4.18,3.86,4.44]],
[3.87,[3.79,4.03,3.62,3.92,3.28,4.21]],[3.92,[4.06,3.83,3.68,4.27,3.95,3.47]],[3.97,[3.88,4.12,3.72,4.01,4.33,3.59]],
[4.02,[4.15,3.93,3.77,4.36,4.05,3.66]],[4.07,[3.98,4.22,3.82,4.11,4.41,3.71]],[4.12,[4.26,4.03,3.87,4.47,4.16,3.76]],
[4.17,[4.08,4.31,3.92,4.21,4.52,3.84]],[4.22,[4.35,4.14,3.97,4.58,4.26,3.41]],[4.27,[4.18,4.42,4.02,4.31,4.63,3.93]],
[4.32,[4.46,4.23,4.07,4.68,4.36,5.05]],[4.37,[4.28,4.52,4.12,4.41,4.73,4.03]],[4.42,[4.56,4.33,4.17,4.79,4.46,3.95]],
[4.47,[4.38,4.62,4.22,4.51,4.84,4.13]],[4.52,[4.66,4.43,4.27,4.89,4.56,4.08]],[4.57,[4.48,4.72,4.32,4.61,4.94,4.23]],
[4.62,[4.76,4.53,4.37,4.99,4.66,4.18]],[4.67,[4.58,4.82,4.42,4.71,5.04,4.33]],[4.72,[4.86,4.63,4.47,5.09,4.76,4.28]],
[4.77,[4.68,4.92,4.52,4.81,5.14,4.43]],[4.82,[4.96,4.73,4.57,5.19,4.86,4.38]],[4.87,[4.78,5.02,4.62,4.91,5.24,4.53]],
[4.92,[5.06,4.83,4.67,5.29,4.96,4.48]],[4.97,[4.88,5.12,4.72,5.01,5.34,4.63]],[5.02,[5.16,4.93,4.77,5.39,5.06,4.58]],
[5.07,[4.98,5.22,4.82,5.11,5.44,4.73]],[5.12,[5.26,5.03,4.87,5.49,5.16,4.68]],[5.17,[5.08,5.32,4.92,5.21,5.54,4.83]],
[5.22,[5.36,5.13,4.97,5.59,5.26,4.78]],[5.27,[5.18,5.42,5.02,5.31,5.64,4.93]],[5.32,[5.46,5.23,5.07,5.69,5.36,4.88]],
[5.37,[5.28,5.52,5.12,5.41,5.74,5.03]],[5.42,[5.56,5.33,5.17,5.79,5.46,4.98]],[5.47,[5.38,5.62,5.22,5.51,5.84,5.13,4.36]],
[5.52,[5.66,5.43,5.27,5.89,5.56,5.08]],[5.57,[5.48,5.72,5.32,5.61,5.94,5.23,6.88]],[5.62,[5.76,5.53,5.37,5.99,5.66,5.18]],
[5.67,[5.58,5.82,5.42,5.71,6.04,5.33]],[5.72,[5.86,5.63,5.47,6.09,5.76,5.28]],[5.77,[5.68,5.92,5.52,5.81,6.14,5.43,7.18]],
[5.82,[5.96,5.73,5.57,6.19,5.86,5.38]],[5.87,[5.78,6.02,5.62,5.91,6.24,5.53]],[5.92,[6.06,5.83,5.67,6.29,5.96,5.48]],
[5.97,[5.88,6.12,5.72,6.01,6.34,5.63]],[6.02,[6.16,5.93,5.77,6.39,6.06,5.58,6.66]],[6.07,[5.98,6.22,5.82,6.11,6.44,5.73,5.29]],
[6.12,[6.26,6.03,5.87,6.49,6.16,5.68]],[6.17,[6.08,6.32,5.92,6.21,6.54,5.83]],[6.22,[6.36,6.13,5.97,6.59,6.26,5.78,5.41]],
[6.27,[6.18,6.42,6.02,6.31,6.64,5.93]],[6.32,[6.46,6.23,6.07,6.69,6.36,5.88]],[6.37,[6.28,6.52,6.12,6.41,6.74,6.03,7.55]],
[6.42,[6.56,6.33,6.17,6.79,6.46,5.98]],[6.47,[6.38,6.62,6.22,6.51,6.84,6.13,5.08]],[6.52,[6.66,6.43,6.27,6.89,6.56,6.08]],
[6.57,[6.48,6.72,6.32,6.61,6.94,6.23,5.88]],[6.62,[6.76,6.53,6.37,6.99,6.66,6.18]],[6.67,[6.58,6.82,6.42,6.71,7.04,6.33,5.49]],
[6.72,[6.86,6.63,6.47,7.09,6.76,6.28,8.38]],[6.77,[6.68,6.92,6.52,6.81,7.14,6.43]],[6.82,[6.96,6.73,6.57,7.19,6.86,6.38]],
[6.87,[6.78,7.02,6.62,6.91,7.24,6.53,7.68]],[6.92,[7.06,6.83,6.67,7.29,6.96,6.48]],[6.97,[6.88,7.12,6.72,7.01,7.34,6.63,5.98]],
[7.02,[7.16,6.93,6.77,7.39,7.06,6.58]],[7.07,[6.98,7.22,6.82,7.11,7.44,6.73,8.28]],[7.12,[7.26,7.03,6.87,7.49,7.16,6.68]],
[7.17,[7.08,7.32,6.92,7.21,7.54,6.83]],[7.22,[7.36,7.13,6.97,7.59,7.26,6.52]],[7.27,[7.18,7.42,7.02,7.31,7.64,6.93]],
[7.32,[7.46,7.23,7.07,7.69,7.36,6.88,8.02]],[7.37,[7.28,7.52,7.12,7.41,7.74,7.03]],[7.42,[7.56,7.33,7.17,7.79,7.46,6.98,8.31]],
[7.47,[7.38,7.62,7.22,7.51,7.84,6.47]],[7.52,[7.66,7.43,7.27,7.89,7.56,8.68]],[7.57,[7.48,7.72,7.32,7.61,7.94,6.82]],
[7.62,[7.76,7.53,7.37,7.99,8.11]],[7.67,[7.58,7.82,7.42,7.71,8.04,7.01]],[7.72,[7.86,7.63,7.47,8.09,8.52]],
[7.77,[7.68,7.92,7.52,8.19,6.63]],[7.82,[7.96,7.73,7.57,8.24,8.81]],[7.87,[7.78,8.02,7.62,8.33,7.35]],
[7.92,[8.06,7.83,7.67,8.72,7.44]],[7.97,[7.88,8.12,7.72,8.41,9.03]],[8.02,[8.16,7.93,8.52,7.61,7.28]],
[8.07,[7.98,8.22,8.64,7.54,8.94]],[8.12,[8.26,8.03,9.41,7.76,8.47]],[8.17,[8.08,8.32,7.88,9.32]],
[8.22,[8.36,8.13,8.74,7.72]],[8.27,[8.18,8.97,7.03,9.82]],[8.32,[8.46,8.08,9.45,7.78]],[8.37,[8.28,9.96,8.81,7.71]],
[8.42,[8.56,9.12,8.19,9.38]],[8.47,[8.38,8.66,7.92,9.44]],[8.52,[8.62,9.18,8.24]],[8.57,[8.48,7.42,8.83]],
[8.62,[8.71,8.12,9.21,7.81]],[8.67,[8.52,8.93,8.36]],[8.72,[8.78,9.04,7.79]],[8.82,[9.02,8.64,9.14]],
[8.87,[8.91,9.26,8.72]],[8.92,[9.08,8.85]],[8.97,[9.52,8.81,9.71]],[9.02,[9.02,9.22]],[9.07,[10.73,9.63,8.02]],
[9.12,[9.68,8.88]],[9.17,[9.92,10.12,7.83,9.04]],[9.27,[8.93,9.0]],[9.32,[7.86,9.15]],[9.42,[9.63,9.22]],
[9.52,[9.26,9.31]],[9.57,[9.18]],[9.77,[9.48]]
];
// Panel C, dense centre of the band
const cCoreRows = [
[3.72,[3.78,3.61,3.85]],[3.77,[3.82,3.66,3.74]],[3.82,[3.91,3.77,3.69]],[3.87,[3.83,3.96,3.78]],[3.92,[3.98,3.86,4.03]],
[3.97,[4.04,3.91,3.99]],[4.02,[4.09,3.96,4.12]],[4.07,[4.02,4.16,4.07]],[4.12,[4.18,4.06,4.21]],[4.17,[4.23,4.11,4.16]],
[4.22,[4.29,4.15,4.24]],[4.27,[4.33,4.21,4.38]],[4.32,[4.27,4.39,4.31]],[4.37,[4.44,4.31,4.36]],[4.42,[4.48,4.37,4.51]],
[4.47,[4.53,4.41,4.46]],[4.52,[4.58,4.46,4.61]],[4.57,[4.52,4.64,4.57]],[4.62,[4.68,4.55,4.71]],[4.67,[4.74,4.61,4.66]],
[4.72,[4.79,4.66,4.72]],[4.77,[4.83,4.71,4.88]],[4.82,[4.77,4.89,4.81]],[4.87,[4.94,4.81,4.86]],[4.92,[4.98,4.86,5.01]],
[4.97,[5.03,4.91,4.96]],[5.02,[5.08,4.96,5.11]],[5.07,[5.02,5.14,5.07]],[5.12,[5.18,5.05,5.21]],[5.17,[5.24,5.11,5.16]],
[5.22,[5.29,5.16,5.22]],[5.27,[5.33,5.21,5.38]],[5.32,[5.27,5.39,5.31]],[5.37,[5.44,5.31,5.36]],[5.42,[5.48,5.36,5.51]],
[5.47,[5.53,5.41,5.46]],[5.52,[5.58,5.46,5.61]],[5.57,[5.52,5.64,5.57]],[5.62,[5.68,5.55,5.71]],[5.67,[5.74,5.61,5.66]],
[5.72,[5.79,5.66,5.72]],[5.77,[5.83,5.71,5.88]],[5.82,[5.77,5.89,5.81]],[5.87,[5.94,5.81,5.86]],[5.92,[5.98,5.86,6.01]],
[5.97,[6.03,5.91,5.96]],[6.02,[6.08,5.96,6.11]],[6.07,[6.02,6.14,6.07]],[6.12,[6.18,6.05,6.21]],[6.17,[6.24,6.11,6.16]],
[6.22,[6.29,6.16,6.22]],[6.27,[6.33,6.21,6.38]],[6.32,[6.27,6.39,6.31]],[6.37,[6.44,6.31,6.36]],[6.42,[6.48,6.36,6.51]],
[6.47,[6.53,6.41,6.46]],[6.52,[6.58,6.46,6.61]],[6.57,[6.52,6.64,6.57]],[6.62,[6.68,6.55,6.71]],[6.67,[6.74,6.61,6.66]],
[6.72,[6.79,6.66,6.72]],[6.77,[6.83,6.71,6.88]],[6.82,[6.77,6.89,6.81]],[6.87,[6.94,6.81,6.86]],[6.92,[6.98,6.86,7.01]],
[6.97,[7.03,6.91,6.96]],[7.02,[7.08,6.96,7.11]],[7.07,[7.02,7.14,7.07]],[7.12,[7.18,7.05,7.21]],[7.17,[7.24,7.11,7.16]],
[7.22,[7.29,7.16,7.22]],[7.27,[7.33,7.21,7.38]],[7.32,[7.27,7.39,7.31]],[7.37,[7.44,7.31,7.36]],[7.42,[7.48,7.36,7.51]],
[7.47,[7.53,7.41,7.46]],[7.52,[7.58,7.46,7.61]],[7.57,[7.52,7.64,7.57]]
];
// Panel D: rows of [average CO, [error values]]
const dRows = [
[3.52,[0.07,0.31]],[3.57,[0.22,-0.08,0.41]],[3.62,[0.62,0.14,-0.13,0.33]],[3.67,[0.27,0.05,0.48,-0.21,0.17]],
[3.72,[0.36,0.11,-0.06,0.56,0.23,-0.32]],[3.77,[0.79,0.19,0.42,-0.14,0.03,0.31]],[3.82,[0.28,0.52,0.07,-0.27,0.65,0.15,-0.36]],
[3.87,[0.74,0.39,0.12,-0.09,0.24,0.58,-0.41]],[3.92,[0.46,0.21,-0.17,0.33,0.02,0.69,-0.29]],[3.97,[0.61,0.35,0.09,-0.23,0.18,0.47,-0.03]],
[4.02,[0.26,0.53,-0.11,0.38,0.01,-0.34,0.77]],[4.07,[0.43,0.14,0.66,-0.19,0.29,-0.05,0.55]],[4.12,[0.76,0.31,0.06,-0.28,0.44,0.19,-0.43]],
[4.17,[0.37,0.58,-0.07,0.22,-0.38,0.12,0.49]],[4.22,[0.54,0.24,-0.16,0.41,0.03,-0.47,-0.67]],[4.27,[0.29,0.63,0.08,-0.24,0.35,-0.02,0.17]],
[4.32,[0.47,0.16,-0.33,0.57,0.25,-0.11,0.72]],[4.37,[0.61,0.34,-0.04,0.19,-0.41,0.44,0.07]],[4.42,[0.23,0.51,-0.21,0.38,0.02,-0.36,-0.53]],
[4.47,[0.69,0.28,0.11,-0.14,0.46,-0.29,0.58]],[4.52,[0.35,0.04,0.55,-0.25,0.19,-0.44,0.82]],[4.57,[0.52,0.21,-0.09,0.37,-0.31,0.13,-0.56]],
[4.62,[0.27,0.63,-0.18,0.44,0.06,-0.48,0.16]],[4.67,[0.71,0.32,0.01,-0.26,0.49,-0.13,-0.78]],[4.72,[0.41,0.15,-0.37,0.58,0.24,-0.07,-0.59]],
[4.77,[0.56,0.26,-0.12,0.39,-0.45,0.09,0.67]],[4.82,[0.33,0.62,-0.21,0.17,-0.34,0.48,0.02]],[4.87,[0.81,0.44,0.08,-0.29,0.27,-0.52,0.14]],
[4.92,[0.49,0.19,-0.16,0.36,-0.41,0.03,0.71]],[4.97,[0.64,0.31,-0.05,0.53,-0.63,0.22,-0.27]],[5.02,[0.38,0.12,1.19,-0.33,0.46,-0.72,0.25]],
[5.07,[0.57,0.24,-0.11,0.41,-0.48,0.07,0.86]],[5.12,[0.29,0.68,-0.24,0.14,-0.37,0.52,-0.02]],[5.17,[0.73,0.36,0.04,-0.19,0.47,-0.56,0.18]],
[5.22,[0.44,0.17,-0.31,0.59,-0.08,0.28,-0.64]],[5.27,[0.61,0.26,-0.14,0.39,-0.45,0.11,0.84]],[5.32,[0.34,0.53,-0.22,0.06,-0.39,0.67,0.21]],
[5.37,[0.77,0.42,0.09,-0.28,0.31,-0.54,-0.11]],[5.42,[0.48,0.15,-0.36,0.58,-0.67,0.24,0.03]],[5.47,[0.63,0.29,-0.04,0.45,-0.49,0.13,-0.21]],
[5.52,[0.38,0.71,-0.18,0.19,-0.42,0.55,-0.76]],[5.57,[0.55,0.23,-0.27,0.36,-0.61,0.08,-0.89]],[5.62,[0.82,0.41,0.02,-0.33,0.27,-0.52,-0.94,0.14]],
[5.67,[0.46,0.18,-0.13,0.59,-0.44,0.31,-0.69]],[5.72,[0.65,0.33,-0.22,0.12,-0.57,0.49,-0.04]],[5.77,[0.91,0.39,0.06,-0.38,0.24,-0.65,0.16]],
[5.82,[1.43,0.52,0.21,-0.16,0.43,-0.49,-0.71,0.01]],[5.87,[0.58,0.27,-0.29,0.37,-0.58,0.11,-0.83]],[5.92,[0.74,0.45,-0.08,0.22,-0.41,0.64,-0.18]],
[5.97,[0.43,0.14,-0.35,0.56,-0.66,0.29,0.98]],[6.02,[0.61,0.32,-0.19,0.08,-0.51,0.47,-0.99]],[6.07,[0.87,0.26,-0.03,-0.42,0.38,-0.74,0.15]],
[6.12,[1.23,0.53,0.19,-0.24,0.34,-0.59,-0.86]],[6.17,[0.68,0.41,-0.12,0.06,-0.47,0.27,-0.68]],[6.22,[1.06,0.48,0.13,-0.31,0.36,-0.62,-1.33,-0.94]],
[6.27,[0.59,0.28,-0.17,0.44,-0.53,0.02,-0.81]],[6.32,[0.78,0.37,-0.06,0.21,-0.43,0.63,-1.03]],[6.37,[0.52,0.16,-0.37,0.46,-0.71,0.09,-0.25]],
[6.42,[1.04,0.64,0.24,-0.14,0.33,-0.56,-0.77]],[6.47,[0.83,0.42,-0.02,-0.39,0.19,-0.63,0.57]],[6.52,[0.47,0.11,-0.27,0.35,-0.68,-1.32,-0.46]],
[6.57,[0.66,0.29,-0.09,0.51,-0.54,0.04,-0.92]],[6.62,[0.99,0.55,0.17,-0.32,0.26,-0.61,-0.19]],[6.67,[0.72,0.38,-0.21,0.08,-0.49,-0.84,0.47]],
[6.72,[0.49,0.21,-0.14,0.33,-0.72,-0.97,-0.38]],[6.77,[0.79,0.44,0.05,-0.26,0.26,-0.58,0.63]],[6.82,[0.58,0.13,-0.34,0.37,-0.77,-0.06,-0.51]],
[6.87,[0.84,0.31,-0.11,0.18,-0.63,-1.01,0.46]],[6.92,[0.98,0.52,0.02,-0.43,0.27,-0.68,-0.24]],[6.97,[0.67,0.24,-0.19,0.41,-0.56,-0.81,0.09]],
[7.02,[1.06,0.35,-0.28,0.14,-0.52,-1.08,0.62]],[7.07,[0.51,0.07,-0.37,0.23,-0.74,-0.15,-1.25]],[7.12,[0.78,0.36,-0.13,0.46,-0.61,-0.88,0.19]],
[7.17,[1.31,0.62,0.17,-0.24,-0.47,-1.21,0.28]],[7.22,[0.56,0.04,-0.42,0.34,-0.79,-0.96,-0.18]],[7.27,[0.73,0.26,-0.06,-0.55,0.47,-1.09,0.12]],
[7.32,[0.95,0.39,-0.21,0.16,-0.67,-0.91,0.58]],[7.37,[0.64,0.11,-0.33,0.29,-0.73,-0.48,-0.02]],[7.42,[0.81,0.45,-0.14,0.07,-0.58,-0.98,0.33]],
[7.47,[0.57,0.23,-0.38,0.14,-0.66,-0.83,0.68]],[7.52,[0.92,0.32,-0.09,-0.47,0.21,-1.01,-0.27]],[7.57,[0.62,0.18,-0.23,0.41,-0.71,-0.53,0.03]],
[7.62,[0.87,0.49,-0.12,-0.36,0.27,-0.84,-0.61]],[7.67,[1.27,0.38,-0.04,-0.44,0.16,-1.15,-1.29,-0.76]],[7.72,[0.66,0.24,-0.29,0.09,-0.63,-0.89,0.45]],
[7.77,[0.53,0.11,-0.18,-0.52,0.33,-0.78,-1.02]],[7.82,[0.72,0.29,-0.07,-0.38,-0.66,0.57,-0.81]],[7.87,[0.44,0.02,-0.31,-0.59,0.21,-0.94,0.63]],
[7.92,[0.36,-0.14,-0.47,0.18,-0.73,-1.04,0.52]],[7.97,[1.28,0.26,-0.08,-0.39,-0.62,0.44,-0.86]],[8.02,[0.31,-0.21,-0.53,0.13,-0.81,-1.23,0.57]],
[8.07,[0.47,0.05,-0.26,-0.58,-0.77,0.71,0.19]],[8.12,[0.29,-0.12,-0.44,0.22,-0.69,-0.94,0.38]],[8.17,[0.82,0.15,-0.31,-0.63,-0.87,0.49]],
[8.22,[0.35,-0.18,-0.49,0.08,-0.72,0.99,-0.96]],[8.27,[0.24,-0.04,-0.36,-0.61,0.55,-0.88,0.82]],[8.32,[0.18,-0.26,-0.57,0.28,-0.79,-1.0]],
[8.37,[0.21,-0.39,-0.66,0.13,-0.93]],[8.42,[0.26,-0.11,-0.52,-0.74,0.79]],[8.47,[0.09,-0.31,-0.68,0.33,-0.91]],
[8.52,[0.17,-0.44,-0.59,0.28,-0.85]],[8.57,[1.4,1.13,-0.22,-0.49,0.05]],[8.62,[0.21,-0.36,-0.72,-0.95,0.26]],
[8.67,[-0.08,-0.57,0.53,-0.84]],[8.72,[0.27,-0.23,-0.63,-1.02]],[8.77,[-0.31,-0.54,0.24,-1.13]],[8.82,[0.19,-0.47,-0.76,-1.3]],
[8.87,[-0.22,-0.58,-0.86,-1.05]],[8.92,[0.26,-0.35,-0.94,-1.42]],[8.97,[0.21,-0.18,-0.89,-0.56]],[9.02,[0.28,-0.41,-1.5,-0.97]],
[9.07,[-0.08,0.23,-0.6]],[9.12,[0.62,-0.38,-0.19]],[9.17,[0.03,-0.45,-0.31]],[9.22,[0.46,-0.18,-0.66]],[9.27,[-0.37,-0.73,0.39]],
[9.32,[0.26,-0.55]],[9.37,[-0.5,-0.37]],[9.47,[-0.2,-0.78]],[9.57,[0.25,-0.95]]
];
// Panel D, dense centre of the cloud
const dCoreRows = [
[3.74,[0.12,0.28,-0.04]],[3.79,[0.21,0.04,0.36]],[3.84,[0.31,0.09,-0.12]],[3.89,[0.17,0.38,0.02]],[3.94,[0.26,-0.08,0.13]],
[3.99,[0.34,0.11,0.22]],[4.04,[0.08,0.29,-0.16]],[4.09,[0.19,0.41,0.04]],[4.14,[0.32,-0.05,0.15]],[4.19,[0.23,0.07,0.36]],
[4.24,[0.14,0.33,-0.11]],[4.29,[0.27,0.01,0.19]],[4.34,[0.39,0.12,-0.02]],[4.39,[0.18,-0.14,0.31]],[4.44,[0.25,0.06,0.42]],
[4.49,[0.11,0.35,-0.07]],[4.54,[0.29,0.16,-0.19]],[4.59,[0.04,0.24,0.37]],[4.64,[0.21,-0.09,0.13]],[4.69,[0.33,0.02,0.26]],
[4.74,[0.16,0.4,-0.15]],[4.79,[0.28,0.08,-0.03]],[4.84,[0.09,0.31,0.19]],[4.89,[0.24,-0.12,0.36]],[4.94,[0.35,0.05,0.14]],
[4.99,[0.13,0.27,-0.21]],[5.04,[0.22,-0.04,0.39]],[5.09,[0.31,0.1,0.0]],[5.14,[0.06,0.23,-0.17]],[5.19,[0.27,0.37,0.12]],
[5.24,[0.15,-0.1,0.3]],[5.29,[0.34,0.03,0.2]],[5.34,[0.1,0.26,-0.23]],[5.39,[0.25,-0.06,0.38]],[5.44,[0.18,0.07,0.32]],
[5.49,[0.02,0.29,-0.14]],[5.54,[0.21,0.13,-0.27]],[5.59,[0.36,-0.02,0.11]],[5.64,[0.07,0.24,-0.18]],[5.69,[0.3,0.16,-0.09]],
[5.74,[0.12,-0.24,0.27]],[5.79,[0.23,0.01,-0.13]],[5.84,[0.05,0.34,-0.2]],[5.89,[0.19,-0.07,0.28]],[5.94,[0.32,0.09,-0.26]],
[5.99,[0.0,0.22,-0.15]],[6.04,[0.15,-0.3,0.31]],[6.09,[0.26,-0.05,0.08]],[6.14,[-0.11,0.18,0.35]],[6.19,[0.09,-0.22,0.24]],
[6.24,[0.2,-0.01,-0.31]],[6.29,[-0.08,0.29,0.12]],[6.34,[0.14,-0.18,0.03]],[6.39,[0.27,-0.27,0.07]],[6.44,[-0.03,0.17,-0.14]],
[6.49,[0.22,-0.09,0.33]],[6.54,[0.05,-0.24,0.14]],[6.59,[-0.16,0.26,0.01]],[6.64,[0.11,-0.05,-0.32]],[6.69,[0.24,-0.19,0.06]],
[6.74,[-0.07,0.13,-0.28]],[6.79,[0.18,-0.13,0.02]],[6.84,[-0.21,0.07,0.29]],[6.89,[0.1,-0.29,-0.04]],[6.94,[-0.12,0.21,-0.35]],
[6.99,[0.04,-0.17,0.15]],[7.04,[-0.25,0.09,-0.06]],[7.09,[0.16,-0.33,0.0]],[7.14,[-0.09,0.12,-0.22]],[7.19,[0.06,-0.28,0.19]],
[7.24,[-0.15,0.02,-0.38]],[7.29,[0.1,-0.2,-0.05]],[7.34,[-0.3,0.05,-0.11]],[7.39,[0.0,-0.24,0.14]],[7.44,[-0.18,-0.4,0.03]],
[7.49,[0.07,-0.13,-0.31]],[7.54,[-0.22,0.01,-0.08]],[7.59,[-0.36,-0.1,0.09]]
];
// Panel D, second layer of the dense centre
const dCore2Rows = [
[3.81,[0.18,-0.02,0.33,0.45]],[3.91,[0.07,0.29,-0.19,0.41]],[4.01,[0.23,0.46,-0.08,0.12]],[4.11,[0.36,0.02,-0.24,0.2]],
[4.21,[0.1,0.27,0.44,-0.13]],[4.31,[-0.18,0.05,0.31,0.22]],[4.41,[0.4,0.14,-0.06,0.28]],[4.51,[0.25,-0.21,0.09,0.46]],
[4.61,[0.32,0.01,-0.12,0.19]],[4.71,[0.08,0.36,-0.27,0.23]],[4.81,[0.43,0.15,-0.09,0.28]],[4.91,[-0.17,0.24,0.06,0.39]],
[5.01,[0.3,-0.03,0.17,-0.3]],[5.11,[0.11,0.44,-0.14,0.26]],[5.21,[0.35,0.05,0.21,-0.22]],[5.31,[-0.07,0.28,0.13,0.41]],
[5.41,[0.2,-0.18,0.37,0.03]],[5.51,[0.45,0.09,-0.29,0.16]],[5.61,[0.26,-0.11,0.04,0.38]],[5.71,[-0.2,0.33,0.1,0.19]],
[5.81,[0.14,-0.33,0.29,0.0]],[5.91,[0.39,0.06,-0.14,0.23]],[6.01,[-0.04,0.18,-0.38,0.42]],[6.11,[0.27,-0.2,0.11,0.04]],
[6.21,[0.08,0.35,-0.1,-0.27]],[6.31,[-0.32,0.22,0.02,0.16]],[6.41,[0.12,-0.15,0.39,-0.05]],[6.51,[0.3,-0.34,0.06,0.18]],
[6.61,[-0.12,0.14,-0.23,0.37]],[6.71,[0.19,-0.41,0.03,0.27]],[6.81,[-0.26,0.08,0.22,-0.09]],[6.91,[0.13,-0.19,0.34,-0.37]],
[7.01,[-0.1,0.2,-0.3,0.05]],[7.11,[0.25,-0.23,-0.02,-0.42]]
];
const dLoaNames = ["Upper LoA", "Bias", "Lower LoA"];
const dLoaValues = [0.68, -0.01, -0.70];

const aDomain = [60, 200], aTicks = [60, 80, 100, 120, 140, 160, 180, 200];
const bYDomain = [-20, 20], bYTicks = [-20, -10, 0, 10, 20];
const cDomain = [2, 12], cTicks = [2, 4, 6, 8, 10, 12];
const dYDomain = [-1.5, 1.5], dYTicks = [-1.5, -1.0, -0.5, 0.0, 0.5, 1.0, 1.5];

// ---------- RENDER ----------
const flat = rows => rows.flatMap(([x, ys]) => ys.map(y => ({x, y})));
const AX = "'DejaVu Sans', sans-serif";
const SANS = "'Liberation Sans', Arial, sans-serif";
const dotOpts = {x: "x", y: "y", r: 2.5, fill: "#444", fillOpacity: 0.4, stroke: "#000", strokeOpacity: 0.8, strokeWidth: 1, clip: true};

function panel(o) {
  const lab = {fontSize: 21, fontFamily: AX, textAnchor: "middle", lineAnchor: "middle", text: d => d};
  const marks = [
    Plot.dot(flat(o.rows), dotOpts),
    ...(o.extra || []),
    Plot.frame({stroke: "#222", strokeWidth: 1}),
    Plot.axisX({ticks: o.xTicks, tickSize: 4, tickPadding: 3, tickFormat: o.xFmt, label: null, fontSize: 17}),
    Plot.axisY({ticks: o.yTicks, tickSize: 4, tickPadding: 3, tickFormat: o.yFmt, label: null, fontSize: 17}),
    Plot.text([o.title], {...lab, frameAnchor: "top", dy: o.titleDy}),
    Plot.text([o.xLabel], {...lab, frameAnchor: "bottom", dy: o.xLabelDy}),
    Plot.text([o.yLabel], {...lab, frameAnchor: "left", dx: o.yLabelDx, rotate: -90})
  ];
  const svg = Plot.plot({
    width: o.width, height: o.height,
    marginLeft: o.ml, marginRight: o.mr, marginTop: o.mt, marginBottom: o.mb,
    style: {fontFamily: AX, fontSize: "17px", color: "#000", background: "transparent", overflow: "visible"},
    x: {domain: o.xDomain},
    y: {domain: o.yDomain},
    marks
  });
  svg.style.left = o.left + "px";
  svg.style.top = o.top + "px";
  document.getElementById("fig").appendChild(svg);
}

const loaMarks = (values, names, fmt, dx) => [
  Plot.ruleY([values[0], values[2]], {stroke: "#444", strokeWidth: 1.5, strokeDasharray: "5.5,3"}),
  Plot.ruleY([values[1]], {stroke: "#000", strokeWidth: 2}),
  Plot.text(values, {y: d => d, text: (d, i) => `${names[i]}: ${fmt(d)}`, frameAnchor: "right", dx, textAnchor: "start", lineAnchor: "middle", fontSize: 20, fontFamily: SANS})
];

const intFmt = d3.format("d");
const oneFmt = d3.format(".1f");
const twoFmt = v => v.toFixed(2);

panel({rows: aRows.concat(aCoreRows), left: 0, top: 0, width: 460, height: 420, ml: 103, mr: 23, mt: 65, mb: 68,
  xDomain: aDomain, yDomain: aDomain, xTicks: aTicks, yTicks: aTicks, xFmt: intFmt, yFmt: intFmt,
  title: "Scatterplot", titleDy: -13, xLabel: "Reference aSBP [mmHg]", xLabelDy: 46,
  yLabel: "Predicted aSBP [mmHg]", yLabelDx: -80,
  extra: [Plot.line(aDomain.map(v => [v, v]), {stroke: "#000", strokeWidth: 1.5})]});

panel({rows: bRows.concat(bCoreRows, bCore2Rows), left: 0, top: 400, width: 660, height: 417, ml: 103, mr: 223, mt: 67, mb: 62,
  xDomain: aDomain, yDomain: bYDomain, xTicks: aTicks, yTicks: bYTicks, xFmt: intFmt, yFmt: intFmt,
  title: "Bland-Altman", titleDy: -15, xLabel: "Average [mmHg]", xLabelDy: 47,
  yLabel: "aSBP Error [mmHg]", yLabelDx: -71,
  extra: loaMarks(bLoaValues, bLoaNames, twoFmt, 18)});

panel({rows: cRows.concat(cCoreRows), left: 690, top: 0, width: 460, height: 420, ml: 107, mr: 19, mt: 65, mb: 68,
  xDomain: cDomain, yDomain: cDomain, xTicks: cTicks, yTicks: cTicks, xFmt: intFmt, yFmt: intFmt,
  title: "Scatterplot", titleDy: -13, xLabel: "Reference CO [L/min]", xLabelDy: 46,
  yLabel: "Predicted CO [L/min]", yLabelDx: -69,
  extra: [Plot.line(cDomain.map(v => [v, v]), {stroke: "#000", strokeWidth: 1.5})]});

panel({rows: dRows.concat(dCoreRows, dCore2Rows), left: 690, top: 400, width: 623, height: 417, ml: 107, mr: 182, mt: 67, mb: 62,
  xDomain: cDomain, yDomain: dYDomain, xTicks: cTicks, yTicks: dYTicks, xFmt: intFmt, yFmt: oneFmt,
  title: "Bland-Altman", titleDy: -15, xLabel: "Average CO [L/min]", xLabelDy: 47,
  yLabel: "CO Error [L/min]", yLabelDx: -79,
  extra: loaMarks(dLoaValues, dLoaNames, twoFmt, 14)});

// panel letters
const letters = ["A", "B", "C", "D"];
const letterX = [15, 18, 720, 722], letterY = [40, 450, 40, 450];
const ns = "http://www.w3.org/2000/svg";
const ov = document.createElementNS(ns, "svg");
ov.setAttribute("width", 1313); ov.setAttribute("height", 817);
ov.style.left = "0px"; ov.style.top = "0px"; ov.style.pointerEvents = "none";
letters.forEach((L, i) => {
  const t = document.createElementNS(ns, "text");
  t.setAttribute("x", letterX[i]); t.setAttribute("y", letterY[i]);
  t.setAttribute("font-family", SANS); t.setAttribute("font-size", 40);
  t.textContent = L; ov.appendChild(t);
});
document.getElementById("fig").appendChild(ov);
</script></body></html>
